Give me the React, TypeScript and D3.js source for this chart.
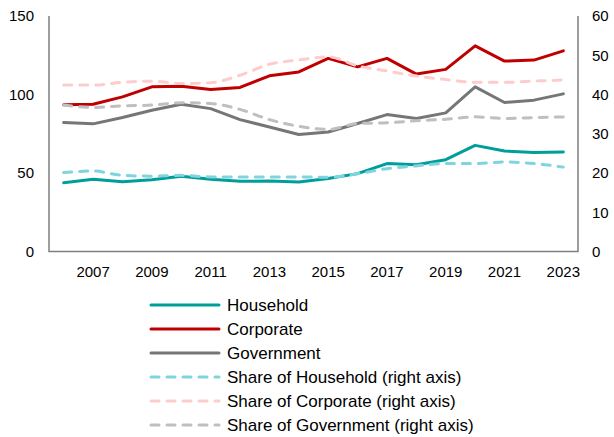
import React from "react";
import * as d3 from "d3";

const years = [2006, 2007, 2008, 2009, 2010, 2011, 2012, 2013, 2014, 2015, 2016, 2017, 2018, 2019, 2020, 2021, 2022, 2023];
const household = [43.8, 46, 44.5, 45.7, 48, 46, 44.7, 44.9, 44.2, 46.5, 49.6, 56, 55.3, 58.5, 67.6, 64, 63, 63.4];
const corporate = [93.4, 93.8, 98.5, 104.9, 105.3, 103.2, 104.5, 111.9, 114.4, 123, 117.6, 123, 113, 116, 131, 121.3, 121.9, 127.8];
const government = [82.1, 81.3, 85.3, 90, 93.8, 91, 84, 79.3, 74.5, 76.1, 81.5, 87.2, 84.7, 88.3, 104.9, 94.9, 96.4, 100.4];
const shareHousehold = [20.1, 20.5, 19.4, 19.2, 19.4, 19.0, 19.0, 19.0, 19.0, 18.9, 19.8, 21.1, 21.8, 22.4, 22.4, 22.8, 22.4, 21.5];
const shareCorporate = [42.4, 42.4, 43.1, 43.4, 42.8, 43.0, 44.9, 47.7, 48.8, 49.6, 47.3, 46.0, 44.7, 43.8, 43.1, 43.1, 43.4, 43.7];
const shareGovernment = [37.3, 36.7, 37.1, 37.3, 37.9, 37.7, 36.2, 33.6, 31.9, 31.1, 32.6, 32.8, 33.3, 33.7, 34.3, 33.9, 34.1, 34.3];
const leftTicks = [0, 50, 100, 150];
const rightTicks = [0, 10, 20, 30, 40, 50, 60];
const xTickYears = [2007, 2009, 2011, 2013, 2015, 2017, 2019, 2021, 2023];

const seriesDefs = [
  { name: "Household", values: household, color: "#009E9A", dashed: false, right: false },
  { name: "Corporate", values: corporate, color: "#C00000", dashed: false, right: false },
  { name: "Government", values: government, color: "#767676", dashed: false, right: false },
  { name: "Share of Household (right axis)", values: shareHousehold, color: "#7FD5DD", dashed: true, right: true },
  { name: "Share of Corporate (right axis)", values: shareCorporate, color: "#FFCCCC", dashed: true, right: true },
  { name: "Share of Government (right axis)", values: shareGovernment, color: "#BFBFBF", dashed: true, right: true },
];

export default function App() {
  const W = 614, H = 437;
  const left = 49, right = 578, top = 16, bottom = 251.5;
  const x = d3.scaleBand<number>().domain(years).range([left, right]);
  const yL = d3.scaleLinear().domain([0, 150]).range([bottom, top]);
  const yR = d3.scaleLinear().domain([0, 60]).range([bottom, top]);
  const cx = (yr: number) => (x(yr) as number) + x.bandwidth() / 2;
  const font = "Liberation Sans, Arial, sans-serif";
  const fs = 15;
  const lfs = 17;

  return (
    <svg width={W} height={H} style={{ position: "absolute", left: 0, top: 0 }} fontFamily={font}>
      {seriesDefs.map((s) => {
        const ys = s.right ? yR : yL;
        const gen = d3
          .line<number>()
          .x((_, j) => cx(years[j]))
          .y((v) => ys(v))
          .curve(s.dashed ? d3.curveMonotoneX : d3.curveLinear);
        return (
          <path
            key={s.name}
            d={gen(s.values) || ""}
            fill="none"
            stroke={s.color}
            strokeWidth={3}
            strokeLinecap="round"
            strokeLinejoin="round"
            strokeDasharray={s.dashed ? "8 8" : undefined}
          />
        );
      })}
      <path
        d={`M${left},${top} V${bottom} H${right} V${top}`}
        fill="none"
        stroke="#7F7F7F"
        strokeWidth={1.5}
      />
      {leftTicks.map((t) => (
        <text key={"l" + t} x={34} y={yL(t)} dy="0.35em" textAnchor="end" fontSize={fs} fill="#000">
          {t}
        </text>
      ))}
      {rightTicks.map((t) => (
        <text key={"r" + t} x={592} y={yR(t)} dy="0.35em" textAnchor="start" fontSize={fs} fill="#000">
          {t}
        </text>
      ))}
      {xTickYears.map((yr) => (
        <text key={"x" + yr} x={cx(yr)} y={272} dy="0.35em" textAnchor="middle" fontSize={fs} fill="#000">
          {yr}
        </text>
      ))}
      {seriesDefs.map((s, i) => {
        const ly = 305 + i * 24;
        return (
          <g key={"lg" + i}>
            <line
              x1={151}
              x2={219}
              y1={ly}
              y2={ly}
              stroke={s.color}
              strokeWidth={3}
              strokeLinecap="round"
              strokeDasharray={s.dashed ? "8 8" : undefined}
            />
            <text x={227} y={ly} dy="0.35em" fontSize={lfs} fill="#000">
              {s.name}
            </text>
          </g>
        );
      })}
    </svg>
  );
}
